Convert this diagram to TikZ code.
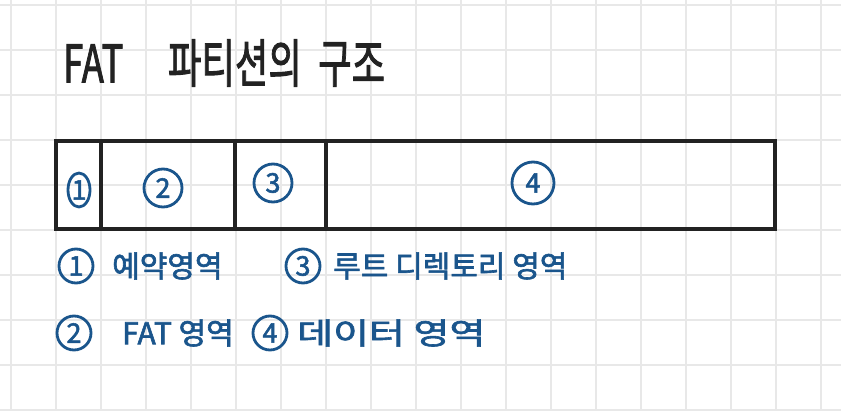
\documentclass[tikz,border=0pt]{standalone}
\usepackage{fontspec}
\setmainfont{Noto Sans CJK KR}
\newfontfamily\penfont{Noto Sans CJK KR}[FakeBold=2]
\usetikzlibrary{positioning,shapes.geometric}
\definecolor{ink}{HTML}{222222}
\definecolor{pen}{HTML}{1A558C}
\definecolor{gridgray}{HTML}{E8E8E8}

\begin{document}
\begin{tikzpicture}[x=1pt,y=-1pt,
  cell/.style={draw=ink,line width=3.2pt,minimum height=88pt,inner sep=0pt,outer sep=0pt},
  num/.style={circle,draw=pen,text=pen,line width=2.8pt,inner sep=0pt,minimum size=34pt,font=\penfont\fontsize{27}{27}\selectfont},
  legend/.style={text=pen,font=\penfont\fontsize{30}{30}\selectfont,inner sep=0pt}]
\useasboundingbox (0,0) rectangle (841,410);
\fill[white] (0,0) rectangle (841,410);
% grid paper
\foreach \x in {11,56,...,821} \draw[gridgray,line width=1.2pt] (\x,0) -- (\x,410);
\foreach \y in {5,50,...,410} \draw[gridgray,line width=1.2pt] (0,\y) -- (841,\y);
%
\node [text=ink,anchor=west,inner sep=0pt,xscale=0.7,font=\penfont\fontsize{52}{52}\selectfont] at (63,63) (title) {FAT\quad\ 파티션의\ \ 구조};
%
\node [cell,minimum width=45pt] at (78.5,185) (res) {};
\node [cell,minimum width=134pt,right=0pt of res] (fat) {};
\node [cell,minimum width=91pt,right=0pt of fat] (root) {};
\node [cell,minimum width=449pt,right=0pt of root] (data) {};
%
\node [num,ellipse,minimum width=22pt,minimum height=34pt] at (79,190) (c1) {1};
\node [num,minimum size=38pt] at (163,188) (c2) {2};
\node [num,minimum size=38pt] at (273,183) (c3) {3};
\node [num,minimum size=42pt] at (533,183) (c4) {4};
%
\node [num] at (76,266) (l1) {1};
\node [legend,anchor=west] at (112,266) (t1) {예약영역};
\node [num] at (303,266) (l3) {3};
\node [legend,anchor=west] at (333,266) (t3) {루트 디렉토리 영역};
\node [num] at (74,333) (l2) {2};
\node [legend,anchor=west] at (122,333) (t2) {FAT 영역};
\node [num] at (270,333) (l4) {4};
\node [legend,anchor=west,xscale=1.3] at (297,333) (t4) {데이터 영역};

\end{tikzpicture}
\end{document}
